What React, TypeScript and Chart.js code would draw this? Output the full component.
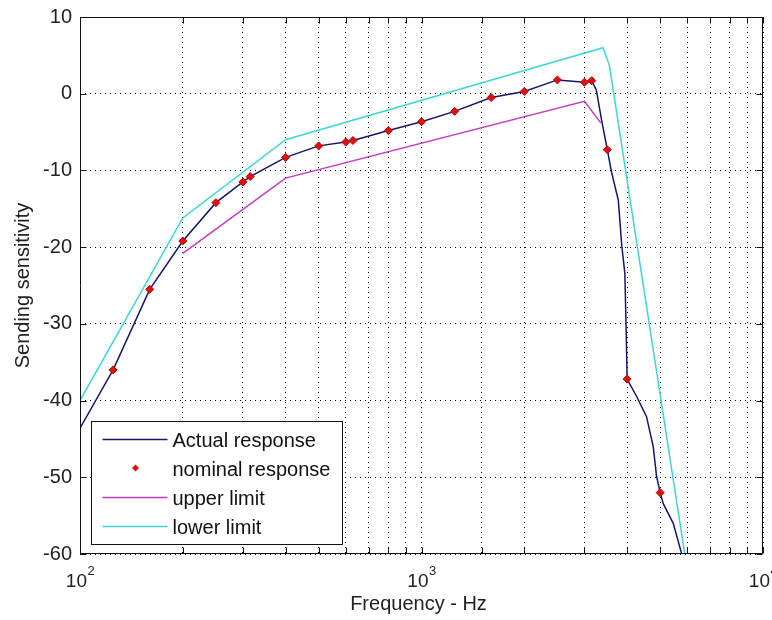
import React, { useEffect, useRef } from 'react';
import { Chart, registerables } from 'chart.js';

Chart.register(...registerables);

// ---- data ----
const actualFreq = [100, 125, 160, 200, 250, 300, 315, 400, 500, 600, 630, 800, 1000, 1250, 1600, 2000, 2500, 3000, 3150, 3250, 3370, 3500, 3600, 3770, 3860, 3940, 3980, 4000, 4270, 4560, 4770, 4880, 5000, 5100, 5460, 5780];
const actualLevel = [-43.6, -36, -25.5, -19.2, -14.2, -11.5, -10.8, -8.3, -6.8, -6.3, -6.1, -4.8, -3.65, -2.3, -0.5, 0.3, 1.8, 1.5, 1.7, 0.5, -3.5, -7.3, -10.2, -13.9, -19.9, -23.4, -32, -37.2, -39.5, -42.1, -46.0, -49.9, -52, -53.4, -56, -60];

const nominalFreq = [125, 160, 200, 250, 300, 315, 400, 500, 600, 630, 800, 1000, 1250, 1600, 2000, 2500, 3000, 3150, 3500, 4000, 5000];
const nominalLevel = [-36, -25.5, -19.2, -14.2, -11.5, -10.8, -8.3, -6.8, -6.3, -6.1, -4.8, -3.65, -2.3, -0.5, 0.3, 1.8, 1.5, 1.7, -7.3, -37.2, -52];

const upperFreq = [200, 400, 3000, 3350];
const upperLevel = [-20.8, -11, -1, -3.8];

const lowerFreq = [100, 200, 400, 3400, 3550, 5900];
const lowerLevel = [-40, -16.2, -6, 6, 3.7, -60];

const yTickValues = [10, 0, -10, -20, -30, -40, -50, -60];
const xMajorTicks = [100, 1000, 10000];

const xTitle = 'Frequency - Hz';
const yTitle = 'Sending sensitivity';

const FONT = '"Liberation Sans", Arial, sans-serif';
const NAVY = '#16166e';
const RED = '#e01010';
const MAGENTA = '#c23cc2';
const CYAN = '#3fd6d6';

const pts = (xs: number[], ys: number[]) => xs.map((x, i) => ({ x, y: ys[i] }));

const framePlugin = {
  id: 'matlabFrame',
  afterDatasetsDraw(chart: any) {
    const { ctx, chartArea: a, scales } = chart;
    const L = Math.round(a.left) + 0.5;
    const R = Math.round(a.right) - 0.5;
    const T = Math.round(a.top) + 0.5;
    const B = Math.round(a.bottom) - 0.5;
    ctx.save();
    ctx.strokeStyle = '#111';
    ctx.lineWidth = 1;
    ctx.beginPath();
    ctx.rect(L, T, R - L, B - T);
    ctx.stroke();
    // inward ticks
    const tl = 6;
    ctx.beginPath();
    scales.x.ticks.forEach((t: any) => {
      const px = Math.round(scales.x.getPixelForValue(t.value)) + 0.5;
      ctx.moveTo(px, B);
      ctx.lineTo(px, B - tl);
      ctx.moveTo(px, T);
      ctx.lineTo(px, T + tl);
    });
    scales.y.ticks.forEach((t: any) => {
      const py = Math.round(scales.y.getPixelForValue(t.value)) + 0.5;
      ctx.moveTo(L, py);
      ctx.lineTo(L + tl, py);
      ctx.moveTo(R, py);
      ctx.lineTo(R - tl, py);
    });
    ctx.stroke();

    // x tick labels 10^n
    ctx.fillStyle = '#222';
    ctx.textBaseline = 'alphabetic';
    ctx.textAlign = 'left';
    xMajorTicks.forEach((v) => {
      const px = scales.x.getPixelForValue(v);
      const exp = String(Math.round(Math.log10(v)));
      ctx.font = `19px ${FONT}`;
      const w1 = ctx.measureText('10').width;
      ctx.font = `13px ${FONT}`;
      const w2 = ctx.measureText(exp).width;
      const x0 = px - (w1 + w2) / 2;
      ctx.font = `19px ${FONT}`;
      ctx.fillText('10', x0, 587);
      ctx.font = `13px ${FONT}`;
      ctx.fillText(exp, x0 + w1 + 0.5, 575);
    });

    // axis titles
    ctx.font = `20px ${FONT}`;
    ctx.textAlign = 'center';
    ctx.fillText(xTitle, (a.left + a.right) / 2 - 3, 610);
    ctx.save();
    ctx.translate(29, (a.top + a.bottom) / 2);
    ctx.rotate(-Math.PI / 2);
    ctx.fillText(yTitle, 0, 0);
    ctx.restore();

    // legend
    const lx = Math.round(a.left) + 11 + 0.5;
    const lw = 251;
    const lh = 123;
    const ly = Math.round(a.bottom) - 10 - lh + 0.5;
    ctx.fillStyle = '#fff';
    ctx.fillRect(lx, ly, lw, lh);
    ctx.strokeStyle = '#111';
    ctx.lineWidth = 1;
    ctx.strokeRect(lx, ly, lw, lh);
    const order = [0, 1, 2, 3];
    order.forEach((di, i) => {
      const ds = chart.data.datasets[di];
      const ry = Math.round(ly + 17 + i * 29);
      if (ds.showLine === false) {
        const cx = lx + 44;
        const r = 3.5;
        ctx.fillStyle = ds.backgroundColor;
        ctx.beginPath();
        ctx.moveTo(cx, ry - r);
        ctx.lineTo(cx + r, ry);
        ctx.lineTo(cx, ry + r);
        ctx.lineTo(cx - r, ry);
        ctx.closePath();
        ctx.fill();
      } else {
        ctx.strokeStyle = ds.borderColor;
        ctx.lineWidth = 1.5;
        ctx.beginPath();
        ctx.moveTo(lx + 11, ry + 0.5);
        ctx.lineTo(lx + 76, ry + 0.5);
        ctx.stroke();
      }
      ctx.fillStyle = '#111';
      ctx.font = `20px ${FONT}`;
      ctx.textAlign = 'left';
      ctx.fillText(ds.label, lx + 81, ry + 7.5);
    });
    ctx.restore();
  },
};

export default function App() {
  const ref = useRef<HTMLCanvasElement>(null);
  useEffect(() => {
    document.body.style.margin = '0';
    const chart = new Chart(ref.current as HTMLCanvasElement, {
      type: 'line',
      data: {
        datasets: [
          {
            label: 'Actual response',
            data: pts(actualFreq, actualLevel),
            borderColor: NAVY,
            backgroundColor: NAVY,
            borderWidth: 1.5,
            pointRadius: 0,
            tension: 0,
            order: 1,
          },
          {
            label: 'nominal response',
            data: pts(nominalFreq, nominalLevel),
            showLine: false,
            pointStyle: 'rectRot',
            pointRadius: 4,
            backgroundColor: RED,
            borderColor: '#c00000',
            borderWidth: 1,
            order: 0,
          },
          {
            label: 'upper limit',
            data: pts(upperFreq, upperLevel),
            borderColor: MAGENTA,
            backgroundColor: MAGENTA,
            borderWidth: 1.5,
            pointRadius: 0,
            tension: 0,
            order: 2,
          },
          {
            label: 'lower limit',
            data: pts(lowerFreq, lowerLevel),
            borderColor: CYAN,
            backgroundColor: CYAN,
            borderWidth: 1.5,
            pointRadius: 0,
            tension: 0,
            order: 3,
          },
        ],
      } as any,
      options: {
        responsive: false,
        animation: false,
        events: [],
        layout: { padding: { top: 17, right: 9, left: 0, bottom: 0 } },
        plugins: {
          legend: { display: false },
          tooltip: { enabled: false },
        },
        scales: {
          x: {
            type: 'logarithmic',
            min: 100,
            max: 10000,
            ticks: { display: false },
            grid: { color: '#000', lineWidth: 1, drawTicks: false },
            border: { display: false, dash: [1, 4] },
            afterFit: (s: any) => {
              s.height = 66;
              s.paddingLeft = 0;
              s.paddingRight = 0;
            },
          },
          y: {
            type: 'linear',
            min: -60,
            max: 10,
            afterBuildTicks: (s: any) => {
              s.ticks = yTickValues.map((v) => ({ value: v }));
            },
            ticks: {
              padding: 8,
              color: '#222',
              font: { family: FONT, size: 20 },
              callback: (v: any) => String(v),
            },
            grid: { color: '#000', lineWidth: 1, drawTicks: false },
            border: { display: false, dash: [1, 4] },
            afterFit: (s: any) => {
              s.width = 80;
              s.paddingTop = 0;
              s.paddingBottom = 0;
            },
          },
        },
      } as any,
      plugins: [framePlugin],
    });
    return () => chart.destroy();
  }, []);
  return (
    <div style={{ width: 772, height: 620 }}>
      <canvas ref={ref} width={772} height={620} style={{ display: 'block' }} />
    </div>
  );
}
